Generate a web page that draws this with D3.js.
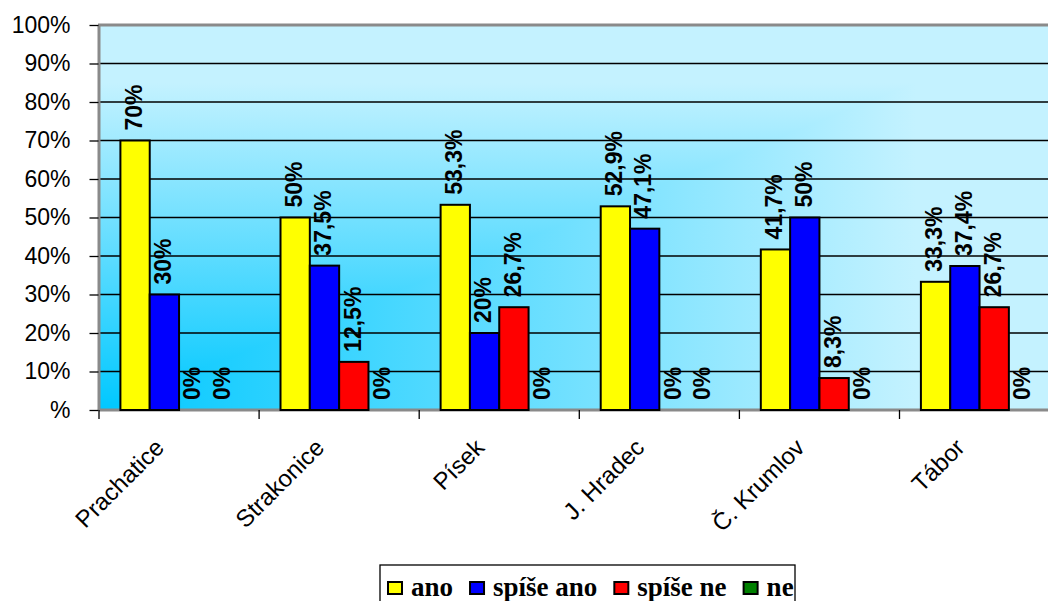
<!DOCTYPE html>
<html>
<head>
<meta charset="utf-8">
<script src="https://cdn.jsdelivr.net/npm/d3@7"></script>
<style>
  html, body { margin: 0; padding: 0; background: #fff; }
  svg { display: block; }
  .legend-label { font-family: "Liberation Serif", "Times New Roman", Times, "DejaVu Serif", serif; font-weight: bold; }
</style>
</head>
<body>
<svg id="chart" width="1048" height="601"></svg>
<script>
// Categories (districts) and answer series
const categories = ["Prachatice", "Strakonice", "Písek", "J. Hradec", "Č. Krumlov", "Tábor"];
const seriesNames = ["ano", "spíše ano", "spíše ne", "ne"];

// Share of answers per district, in percent
const ano      = [70, 50, 53.3, 52.9, 41.7, 33.3];
const spiseAno = [30, 37.5, 20, 47.1, 50, 37.4];
const spiseNe  = [0, 12.5, 26.7, 0, 8.3, 26.7];
const ne       = [0, 0, 0, 0, 0, 0];

const seriesColors = ["#ffff00", "#0000ff", "#ff0000", "#008000"];

// Value-axis ticks and their labels
const yTickValues = [0, 10, 20, 30, 40, 50, 60, 70, 80, 90, 100];
const yTickLabels = ["%", "10%", "20%", "30%", "40%", "50%", "60%", "70%", "80%", "90%", "100%"];

const SANS = "'Liberation Sans', Arial, sans-serif";

const seriesValues = [ano, spiseAno, spiseNe, ne];
const rows = [];
categories.forEach((c, i) => {
  seriesNames.forEach((s, j) => {
    rows.push({ category: c, series: s, value: seriesValues[j][i], color: seriesColors[j] });
  });
});

const svg = d3.select("#chart");
const plot = { left: 99, right: 1059.6, top: 25, bottom: 410 };

const x = d3.scaleBand().domain(categories).range([plot.left, plot.right]).padding(0);
const xInner = d3.scaleBand().domain(seriesNames).range([0, x.bandwidth()])
  .paddingInner(0).paddingOuter(0.73);
const y = d3.scaleLinear().domain([0, 100]).range([plot.bottom, plot.top]);

// Plot-area fill: a two-colour gradient spreading from the lower-left corner
const defs = svg.append("defs");
function gradient(id, x1, y1, x2, y2) {
  const g = defs.append("linearGradient").attr("id", id)
    .attr("x1", x1).attr("y1", y1).attr("x2", x2).attr("y2", y2);
  g.append("stop").attr("offset", "0").attr("stop-color", "#00c8ff");
  g.append("stop").attr("offset", "0.85").attr("stop-color", "#c4f2ff");
  g.append("stop").attr("offset", "1").attr("stop-color", "#c4f2ff");
}
gradient("gradH", "0", "0", "1", "0");
gradient("gradV", "0", "1", "0", "0");

const bg = svg.append("g").style("isolation", "isolate");
bg.append("rect")
  .attr("x", plot.left).attr("y", plot.top)
  .attr("width", plot.right - plot.left).attr("height", plot.bottom - plot.top)
  .attr("fill", "url(#gradH)");
bg.append("rect")
  .attr("x", plot.left).attr("y", plot.top)
  .attr("width", plot.right - plot.left).attr("height", plot.bottom - plot.top)
  .attr("fill", "url(#gradV)")
  .style("mix-blend-mode", "lighten");

// Gridlines
svg.append("g")
  .selectAll("line")
  .data(yTickValues.filter(v => v > 0 && v < 100))
  .join("line")
  .attr("x1", plot.left).attr("x2", plot.right)
  .attr("y1", d => y(d)).attr("y2", d => y(d))
  .attr("stroke", "#000").attr("stroke-width", 1.3);

// Plot-area frame
svg.append("line").attr("x1", plot.left - 1).attr("x2", plot.right)
  .attr("y1", plot.top).attr("y2", plot.top)
  .attr("stroke", "#8a8a8a").attr("stroke-width", 3);
svg.append("line").attr("x1", plot.left).attr("x2", plot.left)
  .attr("y1", plot.top).attr("y2", plot.bottom)
  .attr("stroke", "#8a8a8a").attr("stroke-width", 3);
svg.append("line").attr("x1", plot.left).attr("x2", plot.right)
  .attr("y1", plot.bottom).attr("y2", plot.bottom)
  .attr("stroke", "#8a8a8a").attr("stroke-width", 3);

// Value axis
const yAxis = d3.axisLeft(y)
  .tickValues(yTickValues)
  .tickFormat((d, i) => yTickLabels[i])
  .tickSize(9)
  .tickPadding(19);
const yAxisG = svg.append("g").attr("transform", `translate(${plot.left - 0.5},0)`).call(yAxis);
yAxisG.select(".domain").remove();
yAxisG.selectAll(".tick line").attr("stroke", "#000").attr("stroke-width", 1.3);
yAxisG.selectAll(".tick text")
  .attr("font-family", SANS)
  .attr("font-size", 23)
  .attr("fill", "#000");

// Category axis: ticks on the group boundaries
const boundaries = categories.map(c => x(c)).concat([plot.right]);
svg.append("g")
  .selectAll("line")
  .data(boundaries)
  .join("line")
  .attr("x1", d => d).attr("x2", d => d)
  .attr("y1", plot.bottom).attr("y2", plot.bottom + 9)
  .attr("stroke", "#000").attr("stroke-width", 1.3);

svg.append("g")
  .selectAll("text")
  .data(categories)
  .join("text")
  .attr("transform", d => `translate(${x(d) + x.bandwidth() / 2 - 13.5},449) rotate(-45)`)
  .attr("text-anchor", "end")
  .attr("font-family", SANS)
  .attr("font-size", 24)
  .attr("fill", "#000")
  .text(d => d);

// Bars
svg.append("g")
  .selectAll("rect")
  .data(rows.filter(d => d.value > 0))
  .join("rect")
  .attr("x", d => x(d.category) + xInner(d.series))
  .attr("y", d => y(d.value))
  .attr("width", xInner.bandwidth())
  .attr("height", d => y(0) - y(d.value))
  .attr("fill", d => d.color)
  .attr("stroke", "#000")
  .attr("stroke-width", 2);

// Value labels above each bar
const fmt = v => String(v).replace(".", ",") + "%";
svg.append("g")
  .selectAll("text")
  .data(rows)
  .join("text")
  .attr("transform", d => {
    const cx = x(d.category) + xInner(d.series) + xInner.bandwidth() / 2 - 1.5;
    return `translate(${cx},${y(d.value) - 10}) rotate(-90)`;
  })
  .attr("dy", "0.36em")
  .attr("text-anchor", "start")
  .attr("font-family", SANS)
  .attr("font-weight", "bold")
  .attr("font-size", 23)
  .attr("fill", "#000")
  .text(d => fmt(d.value));

// Legend
const legend = svg.append("g");
legend.append("rect")
  .attr("x", 380).attr("y", 565).attr("width", 415).attr("height", 60)
  .attr("fill", "#fff").attr("stroke", "#000").attr("stroke-width", 1.3);
let lx = 388;
seriesNames.forEach((s, i) => {
  legend.append("rect")
    .attr("x", lx).attr("y", 582).attr("width", 14).attr("height", 12)
    .attr("fill", seriesColors[i]).attr("stroke", "#000").attr("stroke-width", 2);
  const t = legend.append("text")
    .attr("class", "legend-label")
    .attr("x", lx + 23).attr("y", 596)
    .attr("font-size", 27)
    .attr("fill", "#000")
    .text(s);
  lx += 23 + t.node().getComputedTextLength() + 17;
});
</script>
</body>
</html>
